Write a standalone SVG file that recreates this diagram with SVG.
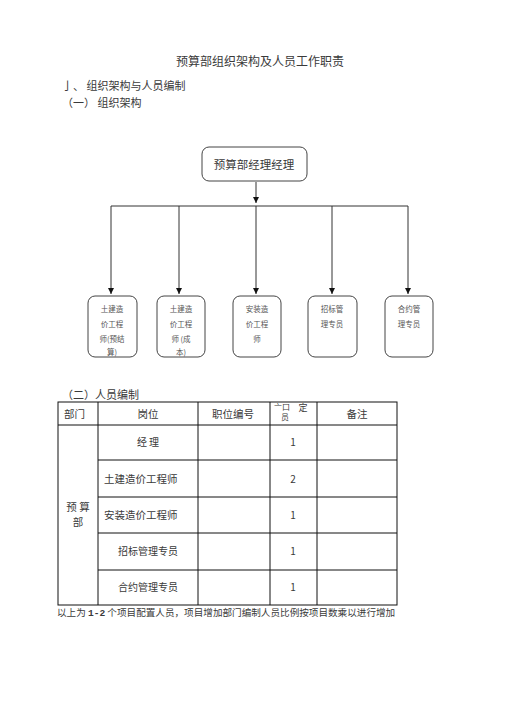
<svg xmlns="http://www.w3.org/2000/svg" width="505" height="714" viewBox="0 0 505 714">
<style>
text{font-family:"Noto Sans CJK SC","Liberation Serif",serif;fill:#3a3a3a;}
.t{font-size:12px;}
.h{font-size:11px;}
.b{font-size:7.5px;text-anchor:middle;fill:#555;}
.c{font-size:10.5px;text-anchor:middle;}
.box{fill:#fff;stroke:#444;stroke-width:1;}
.ln{stroke:#333;stroke-width:1;fill:none;}
.tb{stroke:#111;stroke-width:1;fill:none;}
</style>
<defs>
<marker id="ar" viewBox="0 0 10 10" refX="10" refY="5" markerWidth="6" markerHeight="6" orient="auto"><path d="M0,0 L10,5 L0,10 z" fill="#111"/></marker>
</defs>
<rect width="505" height="714" fill="#fff"/>
<text x="260" y="66" class="t" text-anchor="middle">预算部组织架构及人员工作职责</text>
<text x="62" y="90" class="h">亅、  组织架构与人员编制</text>
<text x="62" y="107" class="h">（一）  组织架构</text>

<g id="connectors">
<line x1="256" y1="182" x2="256" y2="203" class="ln" marker-end="url(#ar)"/>
<line x1="111" y1="206" x2="408" y2="206" class="ln"/>
<line x1="111" y1="206" x2="111" y2="294" class="ln" marker-end="url(#ar)"/>
<line x1="179" y1="206" x2="179" y2="294" class="ln" marker-end="url(#ar)"/>
<line x1="256" y1="206" x2="256" y2="294" class="ln" marker-end="url(#ar)"/>
<line x1="332" y1="206" x2="332" y2="294" class="ln" marker-end="url(#ar)"/>
<line x1="408" y1="206" x2="408" y2="294" class="ln" marker-end="url(#ar)"/>
</g>

<g id="n0"><rect x="202" y="147" width="105" height="34" rx="7" class="box"/><text x="254" y="169" class="c" style="font-size:11.5px">预算部经理经理</text></g>
<g id="n1"><rect x="88" y="296" width="49" height="61" rx="7" class="box"/>
<text class="b"><tspan x="112" y="312">土建造</tspan><tspan x="112" y="327">价工程</tspan><tspan x="112" y="342">师(预结</tspan><tspan x="112" y="355">算)</tspan></text></g>
<g id="n2"><rect x="157" y="296" width="48" height="61" rx="7" class="box"/>
<text class="b"><tspan x="181" y="312">土建造</tspan><tspan x="181" y="327">价工程</tspan><tspan x="181" y="342">师 (成</tspan><tspan x="181" y="355">本)</tspan></text></g>
<g id="n3"><rect x="233" y="296" width="48" height="61" rx="7" class="box"/>
<text class="b"><tspan x="257" y="312">安装造</tspan><tspan x="257" y="327">价工程</tspan><tspan x="257" y="342">师</tspan></text></g>
<g id="n4"><rect x="308" y="296" width="49" height="61" rx="7" class="box"/>
<text class="b"><tspan x="332" y="312">招标管</tspan><tspan x="332" y="327">理专员</tspan></text></g>
<g id="n5"><rect x="385" y="296" width="48" height="61" rx="7" class="box"/>
<text class="b"><tspan x="409" y="312">合约管</tspan><tspan x="409" y="327">理专员</tspan></text></g>

<text x="62" y="399" class="h">（二）人员编制</text>
<g id="table">
<rect x="58" y="402" width="339" height="203" class="tb"/>
<line x1="98" y1="402" x2="98" y2="605" class="tb"/>
<line x1="198" y1="402" x2="198" y2="605" class="tb"/>
<line x1="270" y1="402" x2="270" y2="605" class="tb"/>
<line x1="317" y1="402" x2="317" y2="605" class="tb"/>
<line x1="58" y1="425" x2="397" y2="425" class="tb"/>
<line x1="98" y1="460" x2="397" y2="460" class="tb"/>
<line x1="98" y1="497" x2="397" y2="497" class="tb"/>
<line x1="98" y1="533" x2="397" y2="533" class="tb"/>
<line x1="98" y1="570" x2="397" y2="570" class="tb"/>
</g>
<text x="64" y="418" class="h" style="font-size:10.5px">部门</text>
<text x="148" y="418" class="c">岗位</text>
<text x="233" y="418" class="c">职位编号</text>
<text x="282" y="410" class="c" style="font-size:8px">亠口</text>
<text x="303" y="411" class="c" style="font-size:9px">定</text>
<text x="285" y="420" class="c" style="font-size:8px">员</text>
<text x="357" y="418" class="c">备注</text>

<text x="148" y="446" class="c" style="font-size:10px">经  理</text>
<text x="104" y="483" style="font-size:10.5px">土建造价工程师</text>
<text x="104" y="519" style="font-size:10.5px">安装造价工程师</text>
<text x="148" y="555" class="c" style="font-size:10px">招标管理专员</text>
<text x="148" y="591" class="c" style="font-size:10px">合约管理专员</text>
<text x="293" y="446" class="c" style="font-size:10px">1</text>
<text x="293" y="483" class="c" style="font-size:10px">2</text>
<text x="293" y="519" class="c" style="font-size:10px">1</text>
<text x="293" y="555" class="c" style="font-size:10px">1</text>
<text x="293" y="591" class="c" style="font-size:10px">1</text>
<text x="78" y="511" class="c">预 算</text>
<text x="78" y="526" class="c">部</text>

<text x="57" y="616" style="font-size:9.6px">以上为 <tspan font-weight="bold" font-family="Liberation Mono,monospace">1-2</tspan> 个项目配置人员，项目增加部门编制人员比例按项目数乘以进行增加</text>
</svg>
